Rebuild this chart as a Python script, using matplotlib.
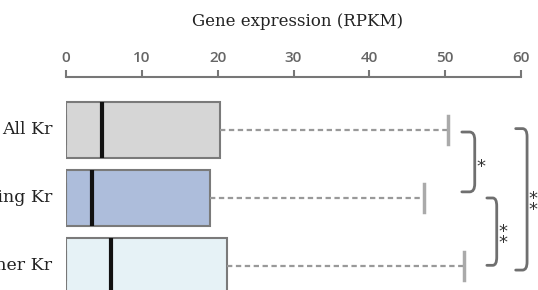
import matplotlib
matplotlib.use("Agg")
import matplotlib.pyplot as plt
from matplotlib.path import Path
from matplotlib.patches import PathPatch

# values (RPKM)
groups = ["All Kr", "Clustering Kr", "Other Kr"]
q1 = [0.0, 0.0, 0.0]
medians = [4.7, 3.4, 5.9]
q3 = [20.3, 19.0, 21.2]
whisk_hi = [50.4, 47.2, 52.5]
fills = ["#d6d6d6", "#adbddb", "#e6f2f6"]
ticks = [0, 10, 20, 30, 40, 50, 60]

# significance brackets: (first group, last group, label)
brackets = [(0, 1, "*"), (1, 2, "**"), (0, 2, "**")]

fig = plt.figure(figsize=(5.38, 2.90), dpi=100)
ax = fig.add_axes([66 / 538, 0, 455 / 538, 1 - 77 / 290])

stats = []
for i in range(len(groups)):
    stats.append(dict(med=medians[i], q1=q1[i], q3=q3[i],
                      whislo=q1[i], whishi=whisk_hi[i], label=groups[i]))

bp = ax.bxp(stats, positions=range(len(groups)), orientation="horizontal",
            widths=0.81, patch_artist=True, showfliers=False, capwidths=0.4,
            boxprops=dict(edgecolor="#7a7a7a", linewidth=1.5),
            medianprops=dict(color="#111111", linewidth=3),
            whiskerprops=dict(color="#999999", linewidth=1.6, linestyle=(0, (2.4, 1.6))),
            capprops=dict(color="#aaaaaa", linewidth=2.5))
for patch, c in zip(bp["boxes"], fills):
    patch.set_facecolor(c)
# the lower whisker/cap sits on the box edge at 0
for k, cap in enumerate(bp["caps"]):
    if k % 2 == 0:
        cap.set_color("#777777")
        cap.set_linewidth(1.5)

ax.set_xlim(0, 60)
ax.set_ylim(2.353, -0.779)

for s in ["left", "right", "bottom"]:
    ax.spines[s].set_visible(False)
ax.spines["top"].set_color("#777777")
ax.spines["top"].set_linewidth(1.5)
ax.xaxis.tick_top()
ax.set_xticks(ticks)
ax.tick_params(axis="x", direction="out", length=5, width=1.5, color="#777777",
               labelcolor="#666666", labelsize=11, pad=4)
for lab in ax.get_xticklabels():
    lab.set_fontfamily("Open Sans")
    lab.set_fontweight("semibold")
ax.set_yticks([])

fig.text(298 / 538, 1 - 22 / 290, "Gene expression (RPKM)", ha="center",
         va="center", family="DejaVu Serif", fontsize=12, color="#222222")
for i, g in enumerate(groups):
    ax.text(-1.8, i, g, ha="right", va="center", family="DejaVu Serif",
            fontsize=12.5, color="#222222", clip_on=False)


def draw_bracket(x0, x1, y0, y1):
    r = 0.12
    dx = (x1 - x0)
    verts = [(x0, y0), (x1 - dx * 0.4, y0), (x1, y0), (x1, y0 + r),
             (x1, y1 - r), (x1, y1), (x1 - dx * 0.4, y1), (x0, y1)]
    codes = [Path.MOVETO, Path.LINETO, Path.CURVE3, Path.CURVE3,
             Path.LINETO, Path.CURVE3, Path.CURVE3, Path.LINETO]
    ax.add_patch(PathPatch(Path(verts, codes), fill=False, edgecolor="#6f6f6f",
                           linewidth=2, clip_on=False, capstyle="round"))


# bracket placement (x in data units, y relative to the group positions)
br_x = [(52.2, 53.9), (55.5, 56.8), (59.3, 60.8)]
br_y = [(0.03, 0.91), (1.0, 1.99), (-0.02, 2.06)]
for (a, b, lab), (x0, x1), (y0, y1) in zip(brackets, br_x, br_y):
    draw_bracket(x0, x1, y0, y1)
    txt = "\n".join(lab)
    ax.text(x1 + 0.25, (y0 + y1) / 2 + 0.08, txt, ha="left", va="center",
            fontsize=13, color="#333333", linespacing=0.5, clip_on=False,
            family="DejaVu Sans")

fig.savefig("out.png", dpi=100)
